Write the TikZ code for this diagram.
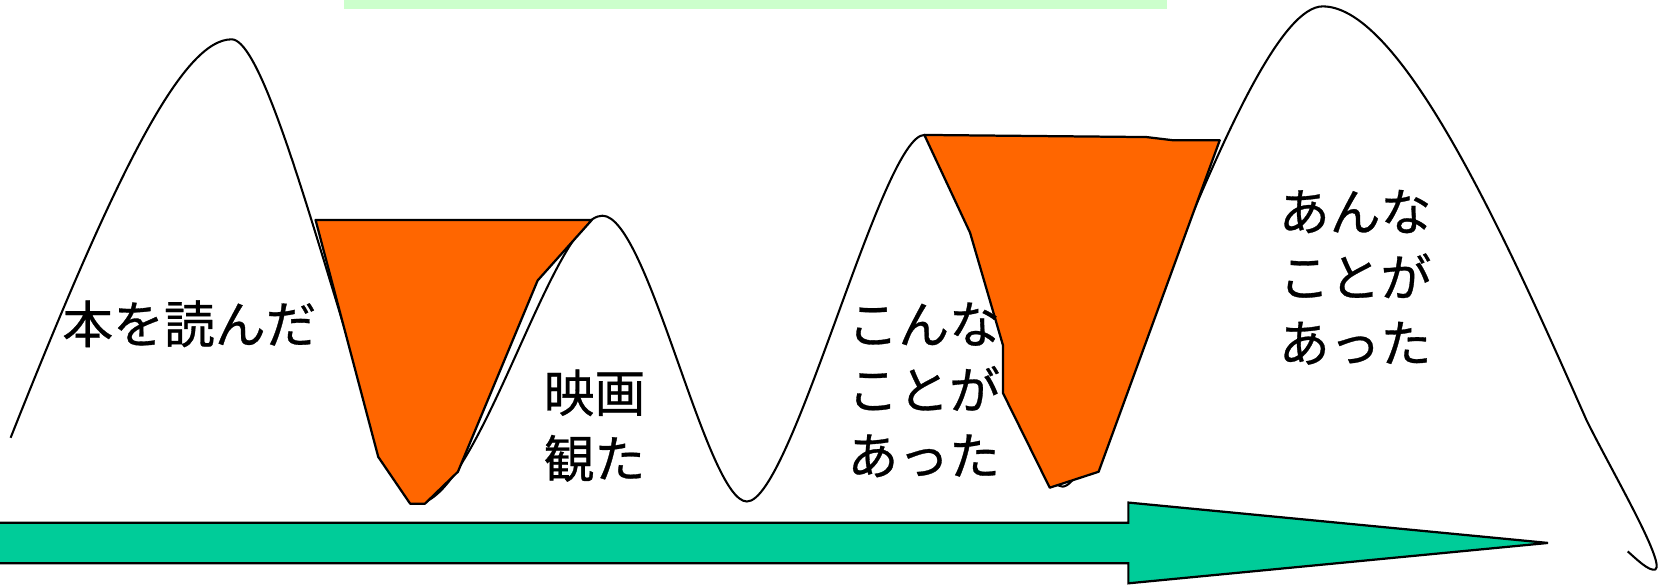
\documentclass[tikz,border=0pt]{standalone}
\usepackage{fontspec}
\newfontfamily\jpfont[FakeBold=0.6]{Noto Sans CJK JP}
\definecolor{pitorange}{HTML}{FF6600}
\definecolor{arrowgreen}{HTML}{00CC99}
\definecolor{barGreen}{HTML}{CCFFCC}
\begin{document}
\begin{tikzpicture}[x=0.01cm,y=-0.01cm,
  curveline/.style={draw=black, line width=0.55pt, line join=round},
  pit/.style={fill=pitorange, draw=black, line width=0.6pt, line join=round},
  bigarrow/.style={fill=arrowgreen, draw=black, line width=0.6pt, line join=miter},
  jplabel/.style={font=\jpfont\fontsize{13.6}{17.6}\selectfont, align=left, anchor=north west, inner sep=0pt}]
\useasboundingbox (0,0) rectangle (1568,553.4);
% top bar
\fill[barGreen] (324,0) rectangle (1098,8.5);
% wave curve
\draw[curveline] (10,412) .. controls (110,160) and (172,37) .. (218,37)
 .. controls (263,37) and (355,474) .. (392,474)
 .. controls (450,474) and (520,203) .. (567,203)
 .. controls (610,203) and (665,472) .. (703,472)
 .. controls (745,472) and (830,127) .. (870,127)
 .. controls (905,127) and (965,458) .. (1000,458)
 .. controls (1040,458) and (1170,6) .. (1245,6)
 .. controls (1320,6) and (1420,230) .. (1493,395)
 .. controls (1515,440) and (1568,530) .. (1558,536)
 .. controls (1552,538) and (1540,526) .. (1532,519);
% orange pits
\draw[pit] (297,207) -- (557,207) -- (506,264) -- (431,444) -- (400,474) -- (386,474) -- (356,430) -- cycle;
\draw[pit] (870,127) -- (1079,129) -- (1104,132) -- (1148,132) -- (1034,444) -- (988,459) -- (944,370) -- (944,325) -- (913,219) -- cycle;
% big arrow
\draw[bigarrow] (-3,492) -- (1062,492) -- (1062,473) -- (1457,511) -- (1062,549) -- (1062,530) -- (-3,530) -- cycle;
% labels
\node[jplabel] (book) at (58,282) {本を読んだ};
\node[jplabel] (movie) at (511,347) {映画\\観た};
\node[jplabel] (this) at (797,284) {こんな\\ことが\\あった};
\node[jplabel] (that) at (1203,178) {あんな\\ことが\\あった};
\end{tikzpicture}
\end{document}
